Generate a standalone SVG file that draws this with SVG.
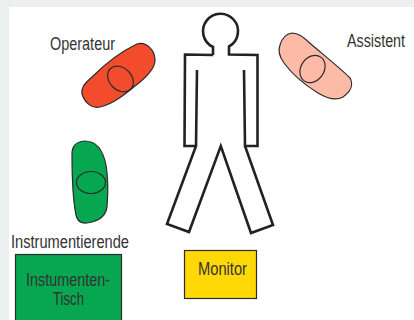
<svg xmlns="http://www.w3.org/2000/svg" width="414" height="320" viewBox="0 0 414 320">
<style>
.t{font-family:"Liberation Sans",Arial,sans-serif;font-size:18px;fill:#333;}
.b{stroke:#2b2b2b;stroke-width:1.2;}
.e{fill:none;stroke:#2b2b2b;stroke-width:1.2;}
.p{fill:#fff;stroke:#222;stroke-width:2.6;stroke-linejoin:miter;}
</style>
<rect width="414" height="320" fill="#ebeff0"/>
<rect x="9" y="7" width="405" height="313" fill="#fff"/>
<g id="operateur">
<path class="b" fill="#f34c2d" d="M137,44 C146,41 155,50 155,60 C155,68 147,77 135,86 C124,95 113,104 100,107 C92,109 85,103 82,94 C81,88 84,84 92,77 C105,64 120,52 137,44 Z"/>
<ellipse class="e" cx="120.500" cy="79" rx="14.500" ry="11" transform="rotate(45 120.500 79)"/>
<text class="t" x="50" y="49.500" textLength="65" lengthAdjust="spacingAndGlyphs">Operateur</text>
</g>
<g id="assistent">
<path class="b" fill="#fdbaa6" d="M292,33 C299,33 304,38 312,45 C325,56 340,68 350,78 C354,85 350,92 343,97 C336,101 328,99 318,93 C305,85 292,74 284,63 C279,56 278,50 280,45 C282,38 286,34 292,33 Z"/>
<ellipse class="e" cx="312.500" cy="69" rx="14.500" ry="11.500" transform="rotate(-55 312.500 69)"/>
<text class="t" transform="translate(347 47) scale(.795 1)">Assistent</text>
</g>
<g id="instrumentierende">
<path class="b" fill="#07a650" d="M85,141 C96,141 103,150 106,165 C108,177 108,195 107,207 C106,215 100,220 92,222 C85,224 78,224 76,215 C74,205 73,195 72.500,180 C72,170 72,160 72,152 C73,144 79,141 85,141 Z"/>
<ellipse class="e" cx="91" cy="182.500" rx="14.500" ry="11"/>
<text class="t" x="11" y="248" textLength="118" lengthAdjust="spacingAndGlyphs">Instrumentierende</text>
</g>
<g id="tisch">
<rect class="b" fill="#07a650" x="15.500" y="254.500" width="106" height="70"/>
<text class="t" x="26" y="286" textLength="84" lengthAdjust="spacingAndGlyphs">Instumenten-</text>
<text class="t" x="53" y="305" textLength="31" lengthAdjust="spacingAndGlyphs">Tisch</text>
</g>
<g id="patient">
<path class="p" d="M213,55 L213,47 A17.500,17.500 0 1 1 229,46.500 L229,54.500 L257.500,55 L257.500,146 L245,146 L244,70 M245,146 L273,225 L251,233 L220.800,146 L189,232 L167,224 L196,146 L197,70 M196,146 L184.500,146 L185,54.500 L213,55"/>
</g>
<g id="monitor">
<rect class="b" fill="#ffd906" x="184.500" y="250.500" width="72" height="48"/>
<text class="t" x="198" y="275" textLength="49" lengthAdjust="spacingAndGlyphs">Monitor</text>
</g>
<g id="connectors"></g>
</svg>
